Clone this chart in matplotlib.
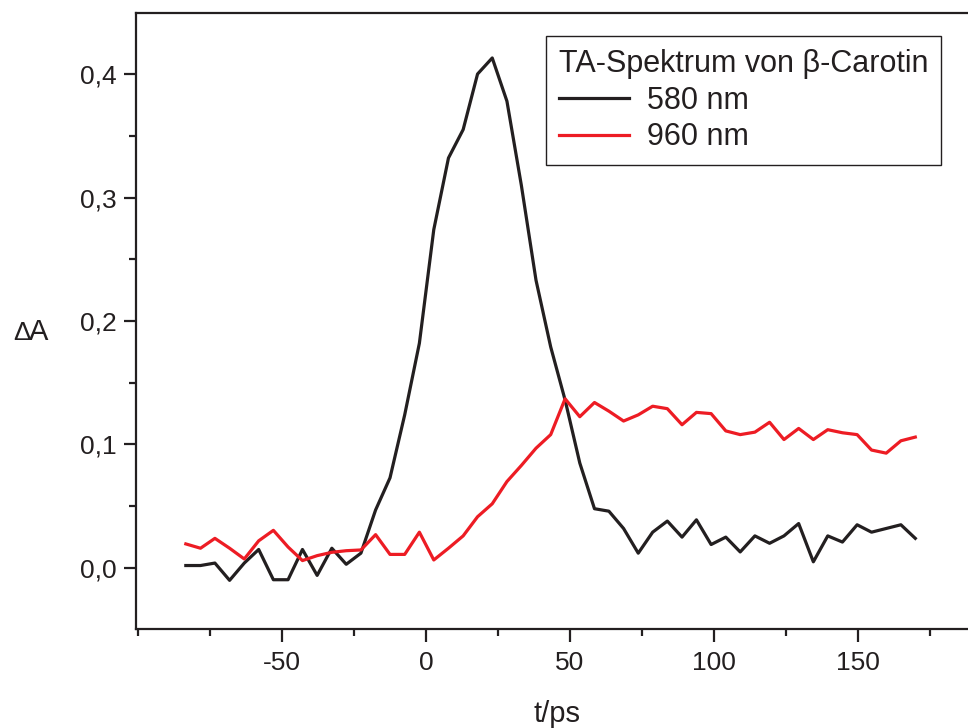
import matplotlib
matplotlib.use("Agg")
import matplotlib.pyplot as plt
from matplotlib.ticker import MultipleLocator

# delay times (ps)
t_ps = [-83.4, -78.3, -73.3, -68.2, -63.1, -58.1, -53.0, -47.9, -42.9, -37.8,
        -32.7, -27.7, -22.6, -17.5, -12.5, -7.4, -2.3, 2.7, 7.8, 12.9,
        17.9, 23.0, 28.1, 33.1, 38.2, 43.3, 48.3, 53.4, 58.5, 63.5,
        68.6, 73.7, 78.7, 83.8, 88.9, 93.9, 99.0, 104.1, 109.1, 114.2,
        119.3, 124.3, 129.4, 134.5, 139.5, 144.6, 149.7, 154.7, 159.8, 164.9,
        169.9]

# delta A at 580 nm
dA_580 = [0.002, 0.002, 0.004, -0.010, 0.004, 0.015, -0.0095, -0.0095, 0.015, -0.006,
          0.016, 0.003, 0.012, 0.047, 0.073, 0.124, 0.182, 0.274, 0.332, 0.355,
          0.400, 0.413, 0.378, 0.310, 0.233, 0.179, 0.136, 0.085, 0.048, 0.046,
          0.032, 0.012, 0.029, 0.038, 0.025, 0.039, 0.019, 0.025, 0.013, 0.026,
          0.020, 0.026, 0.036, 0.005, 0.026, 0.021, 0.035, 0.029, 0.032, 0.035,
          0.024]

# delta A at 960 nm
dA_960 = [0.0195, 0.016, 0.024, 0.016, 0.0073, 0.022, 0.0305, 0.017, 0.006, 0.010,
          0.0127, 0.014, 0.0146, 0.027, 0.011, 0.011, 0.029, 0.0065, 0.016, 0.026,
          0.0415, 0.052, 0.070, 0.083, 0.097, 0.108, 0.137, 0.1225, 0.134, 0.127,
          0.119, 0.124, 0.131, 0.129, 0.116, 0.126, 0.125, 0.111, 0.108, 0.110,
          0.118, 0.104, 0.113, 0.104, 0.112, 0.1095, 0.108, 0.0955, 0.093, 0.103,
          0.106]

xticks = [-50, 0, 50, 100, 150]
yticks = [0.0, 0.1, 0.2, 0.3, 0.4]
ytick_labels = ["0,0", "0,1", "0,2", "0,3", "0,4"]

plt.rcParams['font.family'] = ['Liberation Sans', 'DejaVu Sans']
plt.rcParams['axes.unicode_minus'] = False

fig = plt.figure(figsize=(9.68, 7.28), dpi=100)
ax = fig.add_axes([136/968, 99/728, 832/968, 616/728])

ax.plot(t_ps, dA_580, color='#231f20', lw=2.3, label='580 nm')
ax.plot(t_ps, dA_960, color='#ed1c24', lw=2.3, label='960 nm')

ax.set_xlim(-100.7, 188.2)
ax.set_ylim(-0.0494, 0.4494)

ax.set_xticks(xticks)
ax.set_yticks(yticks)
ax.set_yticklabels(ytick_labels)
ax.xaxis.set_minor_locator(MultipleLocator(25))
ax.yaxis.set_minor_locator(MultipleLocator(0.05))

ax.spines['right'].set_visible(False)
for s in ['left', 'bottom', 'top']:
    ax.spines[s].set_linewidth(1.6)
    ax.spines[s].set_color('#231f20')

ax.tick_params(which='major', direction='out', length=9, width=1.6,
               labelsize=19, color='#231f20', labelcolor='#231f20')
ax.tick_params(which='minor', direction='out', length=5, width=1.6,
               color='#231f20')
ax.tick_params(axis='x', which='major', pad=7)
ax.tick_params(axis='y', which='major', pad=5)
ax.tick_params(top=False, right=False, which='both')

# axis labels
fig.text(557/968, 1 - 722/728, 't/ps', fontsize=21, ha='center',
         va='baseline', color='#231f20')
fig.text(13/968, 1 - 340/728, '\u0394', fontsize=19, ha='left',
         va='baseline', color='#231f20')
fig.text(29/968, 1 - 340/728, 'A', fontsize=21, ha='left',
         va='baseline', color='#231f20')

leg = ax.legend(title='TA-Spektrum von \u03b2-Carotin', loc='upper left',
                bbox_to_anchor=(546/968, 1 - 36/728), bbox_transform=fig.transFigure,
                borderaxespad=0, fontsize=22, title_fontsize=22,
                handlelength=2.3, handletextpad=0.6, labelspacing=0.22,
                fancybox=False, framealpha=1, edgecolor='#231f20',
                borderpad=0.42, alignment='left')
leg.get_frame().set_linewidth(1.0)
for txt in leg.get_texts():
    txt.set_color('#231f20')
leg.get_title().set_color('#231f20')

fig.savefig('out.png', dpi=100)
